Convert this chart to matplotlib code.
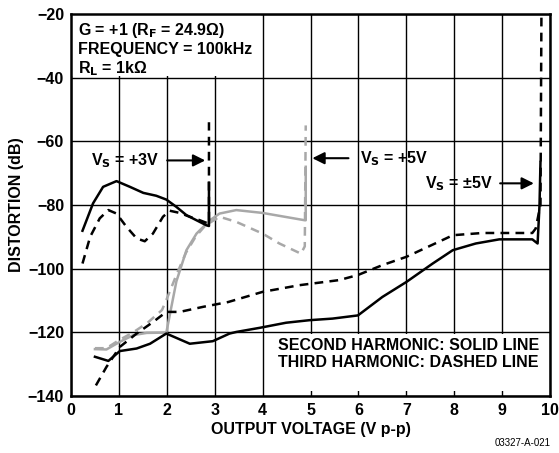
import matplotlib.pyplot as plt
from matplotlib.patches import Rectangle

plt.rcParams['font.family'] = ['Liberation Sans', 'DejaVu Sans']
plt.rcParams['font.weight'] = 'bold'

# VS = +3V, second harmonic (solid) and third harmonic (dashed)
x_3v_2nd = [0.24, 0.46, 0.67, 0.95, 1.23, 1.51, 1.78, 1.99, 2.2, 2.41, 2.62, 2.83, 2.88, 2.88]
y_3v_2nd = [-88.1, -79.5, -74.3, -72.5, -74.3, -76.2, -77.1, -78.3, -80.6, -83.2, -84.8, -86.4, -86.6, -73.0]
x_3v_3rd = [0.24, 0.4, 0.6, 0.78, 0.95, 1.16, 1.37, 1.54, 1.71, 1.92, 2.06, 2.27, 2.48, 2.69, 2.86, 2.88, 2.88]
y_3v_3rd = [-98.4, -90.0, -84.2, -81.6, -82.7, -86.9, -90.5, -91.4, -89.0, -83.7, -81.8, -82.5, -83.7, -84.8, -85.8, -86.0, -54.0]

# VS = +5V
x_5v_2nd = [0.5, 0.74, 1.02, 1.3, 1.58, 1.99, 2.2, 2.41, 2.62, 2.9, 3.1, 3.45, 4.0, 4.88, 4.9, 4.9]
y_5v_2nd = [-125.3, -125.4, -123.0, -120.9, -120.2, -120.1, -104.0, -94.2, -89.0, -84.8, -82.7, -81.6, -82.5, -84.8, -84.8, -68.0]
x_5v_3rd = [0.5, 0.74, 1.0, 1.3, 1.6, 1.9, 2.0, 2.2, 2.4, 2.6, 2.8, 3.1, 3.45, 4.0, 4.35, 4.8, 4.88, 4.9]
y_5v_3rd = [-125.0, -125.0, -122.5, -120.0, -117.0, -113.0, -109.5, -102.0, -95.0, -90.0, -86.5, -83.7, -85.3, -89.0, -92.1, -95.3, -93.0, -55.0]

# VS = +/-5V
x_pm5_2nd = [0.5, 0.78, 1.02, 1.37, 1.65, 1.99, 2.48, 2.96, 3.31, 3.45, 3.94, 4.49, 4.98, 5.46, 5.99, 6.5, 7.0, 7.55, 7.97, 8.45, 8.94, 9.63, 9.74, 9.78, 9.8]
y_pm5_2nd = [-127.7, -129.0, -125.9, -125.1, -123.6, -120.4, -123.6, -122.8, -120.4, -119.9, -118.6, -117.0, -116.2, -115.7, -114.7, -108.9, -104.2, -98.4, -94.2, -92.1, -90.8, -90.8, -92.1, -80.0, -66.5]
x_pm5_3rd = [0.52, 0.74, 1.02, 1.37, 1.71, 1.99, 2.27, 2.76, 3.28, 4.0, 4.77, 5.6, 5.99, 6.5, 7.0, 7.83, 7.97, 8.59, 9.63, 9.7, 9.8, 9.82]
y_pm5_3rd = [-136.7, -130.9, -124.6, -120.4, -116.8, -113.6, -113.6, -112.0, -110.5, -107.3, -105.2, -103.6, -102.0, -98.9, -96.3, -90.5, -89.5, -88.8, -88.8, -87.4, -80.0, -20.0]

xticks = list(range(0, 11))
yticks = list(range(-140, -19, 20))

fs = 11.5

fig = plt.figure(figsize=(5.59, 4.53), dpi=100)
ax = fig.add_axes([0.127, 0.126, 0.857, 0.843])
ax.set_xlim(0, 10)
ax.set_ylim(-140, -20)
ax.set_xticks(xticks)
ax.set_yticks(yticks)
ax.tick_params(length=0, labelsize=fs, pad=5)
for lab in ax.get_xticklabels() + ax.get_yticklabels():
    lab.set_fontweight('bold')
ax.grid(True, color='black', linewidth=1.0)
ax.set_axisbelow(True)
for s in ax.spines.values():
    s.set_linewidth(1.8)

# white boxes that hide the grid behind the notes
ax.add_patch(Rectangle((0, -39.6), 3.96, 19.6, facecolor='white', edgecolor='none', zorder=1))
ax.add_patch(Rectangle((4.25, -138.3), 5.73, 17.9, facecolor='white', edgecolor='none', zorder=1))

gray = '#a8a8a8'
lw = 1.8
dash = (0, (3.5, 2.5))
ax.plot(x_5v_2nd, y_5v_2nd, color=gray, lw=lw, zorder=2)
ax.plot(x_5v_3rd, y_5v_3rd, color=gray, lw=lw, ls=dash, zorder=2)
ax.plot(x_3v_2nd, y_3v_2nd, color='black', lw=lw, zorder=3)
ax.plot(x_3v_3rd, y_3v_3rd, color='black', lw=lw, ls=dash, zorder=3)
ax.plot(x_pm5_2nd, y_pm5_2nd, color='black', lw=lw, zorder=3)
ax.plot(x_pm5_3rd, y_pm5_3rd, color='black', lw=lw, ls=dash, zorder=3)

ax.text(0.15, -22.2, 'G = +1 (R$_\\mathbf{F}$ = 24.9\u03a9)\nFREQUENCY = 100kHz\nR$_\\mathbf{L}$ = 1k\u03a9',
        fontsize=fs, fontweight='bold', va='top', ha='left', linespacing=1.15, zorder=4)

arrow = dict(arrowstyle='-|>', color='black', lw=1.5, mutation_scale=18)
ax.text(0.42, -66, 'V$_\\mathbf{S}$ = +3V', fontsize=fs, fontweight='bold', va='center', ha='left', zorder=4)
ax.annotate('', xy=(2.86, -66), xytext=(1.95, -66), arrowprops=arrow, zorder=4)
ax.text(6.03, -65.3, 'V$_\\mathbf{S}$ = +5V', fontsize=fs, fontweight='bold', va='center', ha='left', zorder=4)
ax.annotate('', xy=(4.98, -65.3), xytext=(5.85, -65.3), arrowprops=arrow, zorder=4)
ax.text(7.38, -73.2, 'V$_\\mathbf{S}$ = \u00b15V', fontsize=fs, fontweight='bold', va='center', ha='left', zorder=4)
ax.annotate('', xy=(9.72, -73.2), xytext=(8.9, -73.2), arrowprops=arrow, zorder=4)

ax.text(4.33, -126.8, 'SECOND HARMONIC: SOLID LINE\nTHIRD HARMONIC: DASHED LINE',
        fontsize=fs, fontweight='bold', va='center', ha='left', linespacing=1.1, zorder=4)

ax.set_xlabel('OUTPUT VOLTAGE (V p-p)', fontsize=fs, fontweight='bold', labelpad=3)
ax.set_ylabel('DISTORTION (dB)', fontsize=fs, fontweight='bold', labelpad=3)
fig.text(0.985, 0.01, '03327-A-021', fontsize=7, fontweight='normal', ha='right', va='bottom')

fig.savefig('out.png', dpi=100)
